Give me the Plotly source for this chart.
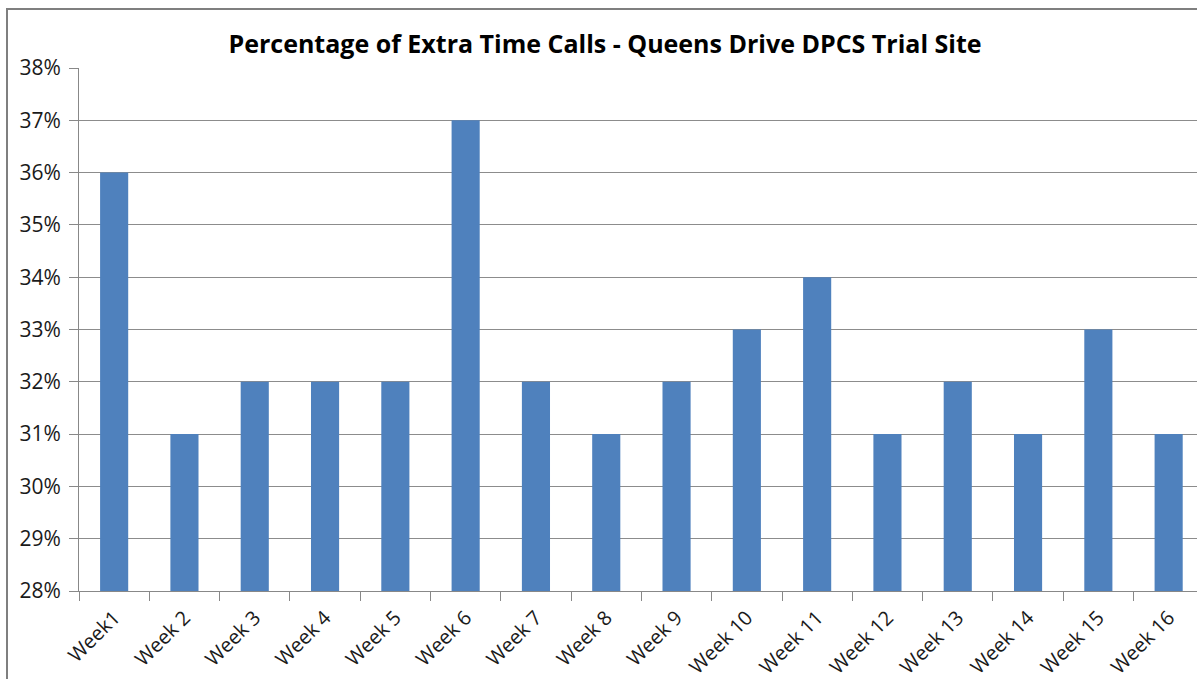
import plotly.graph_objects as go

weeks = ["Week1", "Week 2", "Week 3", "Week 4", "Week 5", "Week 6", "Week 7", "Week 8",
         "Week 9", "Week 10", "Week 11", "Week 12", "Week 13", "Week 14", "Week 15", "Week 16"]
pct = [36, 31, 32, 32, 32, 37, 32, 31, 32, 33, 34, 31, 32, 31, 33, 31]
y_ticks = [28, 29, 30, 31, 32, 33, 34, 35, 36, 37, 38]
y_tick_labels = [f"{v}%" for v in y_ticks]

W, H = 1197, 679
L, T, B, R = 79, 68, 88, 0
pw = W - L - R
ph = H - T - B

fig = go.Figure(go.Bar(
    x=list(range(len(weeks))), y=pct, base=0,
    marker=dict(color="#4F81BD", line=dict(width=0)),
    width=0.4,
))

fig.update_layout(
    width=W, height=H,
    margin=dict(l=L, r=R, t=T, b=B, autoexpand=False),
    paper_bgcolor="white", plot_bgcolor="white",
    showlegend=False,
    font=dict(family="Open Sans, sans-serif", color="#1a1a1a"),
    title=dict(text="<b>Percentage of Extra Time Calls - Queens Drive DPCS Trial Site</b>",
               x=(605) / W, xanchor="center", y=1 - 44 / H, yanchor="middle",
               font=dict(size=25, color="#000000")),
    bargap=0.6,
)

fig.update_xaxes(
    range=[-0.5, -0.5 + pw / 70.3],
    tickmode="array", tickvals=list(range(len(weeks))), ticktext=weeks,
    tickangle=-45, tickfont=dict(size=20, color="#1a1a1a"),
    showgrid=False, showline=True, linecolor="#888888", linewidth=1,
    ticks="", automargin=False, ticklabelstandoff=6,
)
# category boundary tick marks
fig.update_xaxes(minor=dict(tickmode="array", tickvals=[i - 0.5 for i in range(17)],
                            ticks="outside", ticklen=9, tickcolor="#888888", showgrid=False))

fig.update_yaxes(
    range=[28, 38], tickmode="array", tickvals=y_ticks, ticktext=y_tick_labels,
    tickfont=dict(size=21, color="#1a1a1a"),
    showgrid=True, gridcolor="#8c8c8c", gridwidth=1,
    showline=True, linecolor="#888888", linewidth=1,
    ticks="outside", ticklen=9, tickcolor="#888888",
    zeroline=False, automargin=False, ticklabelstandoff=4,
)

# outer chart border (partially cropped in the reference)
fig.add_shape(type="rect", xref="paper", yref="paper",
              x0=(7 - L) / pw, x1=(W + 20 - L) / pw,
              y0=-(H + 20 - T - ph) / ph, y1=1 + (T - 9) / ph,
              line=dict(color="#7f7f7f", width=2), fillcolor="rgba(0,0,0,0)", layer="below")

fig.write_html("out.html")
